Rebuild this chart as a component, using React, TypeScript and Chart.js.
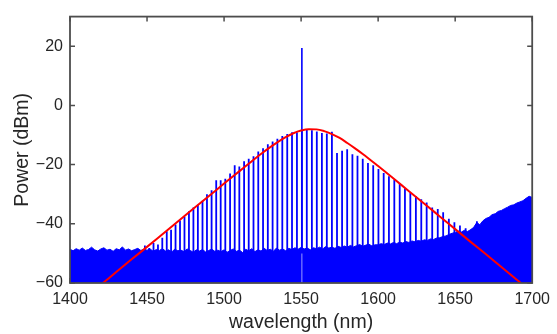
import React, { useEffect, useRef } from "react";
import { Chart, registerables } from "chart.js";

Chart.register(...registerables);

const X_MIN = 1400;
const X_MAX = 1700;
const Y_MIN = -60;
const Y_MAX = 30;
const X_TICKS = [1400, 1450, 1500, 1550, 1600, 1650, 1700];
const Y_TICKS = [-60, -40, -20, 0, 20];

// Noise floor of the measured spectrum, sampled every 2 nm starting at 1400 nm
const FLOOR_START_NM = 1400;
const FLOOR_STEP_NM = 2;
const FLOOR_DBM = [
  -48.6, -49.1, -48.4, -48.9, -48.2, -49.0, -48.7, -47.9, -48.8, -49.2, -48.5, -48.1, -48.9,
  -48.6, -49.3, -48.4, -48.8, -47.8, -48.9, -48.5, -49.1, -48.7, -48.3, -49.0, -48.6,
  -48.9, -48.5, -49.3, -48.7, -49.0, -48.4, -49.2, -48.8, -49.5, -48.6, -49.1, -48.9, -49.4,
  -48.5, -49.0, -49.6, -48.8, -49.2, -48.7, -49.5, -49.0, -48.6, -49.3, -48.9, -49.4,
  -48.8, -49.6, -49.0, -48.5, -49.3, -48.9, -49.7, -48.6, -49.1, -48.4, -49.4, -48.8, -49.2,
  -48.3, -49.0, -48.6, -49.3, -48.2, -48.9, -48.5, -49.1, -48.3, -48.7, -48.1, -48.6,
  -48.0, -48.5, -48.2, -48.8, -48.1, -48.4, -47.9, -48.5, -47.7, -48.2, -47.9, -48.3, -47.6,
  -48.0, -47.5, -47.9, -47.3, -47.8, -47.4, -47.0, -47.6, -47.2, -46.9, -47.5, -47.1,
  -47.1, -46.7, -47.0, -46.5, -46.8, -46.3, -46.7, -46.2, -46.5, -46.0, -46.3, -45.8, -46.1,
  -45.6, -45.9, -45.4, -45.6, -45.1, -45.3, -44.8, -44.7, -44.3, -44.1, -43.6, -43.2,
  -42.9, -42.5, -42.8, -42.2, -42.6, -42.0, -41.2, -39.6, -40.3, -39.0, -38.2, -37.8, -36.9,
  -36.6, -35.8, -35.5, -34.9, -34.4, -33.8, -33.6, -33.0, -32.6, -32.2, -31.4, -30.7, -31.1,
];

// Comb lines (400 GHz grid) : wavelength (nm) and peak power (dBm)
const COMB_NM = [
  1448.6, 1451.4, 1454.2, 1457.1, 1459.9, 1462.8, 1465.6, 1468.5, 1471.4, 1474.3, 1477.2,
  1480.1, 1483.0, 1486.0, 1488.9, 1491.9, 1494.9, 1497.8, 1500.8, 1503.9, 1506.9, 1509.9,
  1513.0, 1516.0, 1519.1, 1522.2, 1525.3, 1528.4, 1531.5, 1534.6, 1537.8, 1541.0, 1544.1,
  1547.3, 1550.5, 1553.7, 1557.0, 1560.2, 1563.5, 1566.7, 1570.0, 1573.3, 1576.6, 1579.9,
  1583.3, 1586.6, 1590.0, 1593.4, 1596.8, 1600.2, 1603.6, 1607.0, 1610.5, 1614.0, 1617.4,
  1620.9, 1624.5, 1628.0, 1631.5, 1635.1, 1638.7, 1642.2, 1645.9, 1649.5, 1653.1, 1656.8,
  1660.4, 1664.1,
];
const COMB_DBM = [
  -47.3, -48.2, -46.5, -47.0, -44.7, -42.5, -42.0, -40.2, -38.9, -37.6, -35.8,
  -34.5, -33.6, -32.2, -30.0, -28.7, -25.3, -25.3, -24.8, -23.0, -20.2, -20.6,
  -18.9, -18.0, -17.2, -15.6, -14.5, -13.1, -12.2, -11.3, -10.3, -9.7, -9.1,
  -9.1, -8.6, -8.3, -8.4, -8.8, -9.3, -9.5, -8.9, -16.1, -15.3, -14.8,
  -16.5, -17.0, -18.0, -19.5, -20.2, -21.5, -22.8, -23.9, -25.0, -26.5, -28.0,
  -29.5, -30.6, -31.7, -32.8, -34.5, -35.0, -36.1, -38.3, -39.5, -40.6, -41.5,
  -41.8, -39.1,
];

// Pump line
const PUMP_NM = [1550.5];
const PUMP_DBM = [19.4];
const PUMP_NOTCH_DBM = [-50.0];

// Fitted envelope (red)
const FIT_NM = [
  1420, 1430, 1440, 1450, 1460, 1470, 1480, 1490, 1500, 1510, 1520, 1525, 1530, 1535, 1540,
  1545, 1550, 1555, 1560, 1565, 1570, 1575, 1580, 1585, 1590, 1600, 1610, 1620, 1630, 1640,
  1650, 1660, 1670, 1680, 1690, 1695,
];
const FIT_DBM = [
  -60.6, -56.3, -52.0, -47.8, -43.5, -39.2, -34.9, -30.7, -26.4, -22.2, -18.0, -16.0, -14.1,
  -12.3, -10.7, -9.4, -8.5, -8.04, -8.1, -8.7, -9.7, -11.0, -12.7, -14.5, -16.4, -20.5, -24.7,
  -29.0, -33.2, -37.5, -41.8, -46.1, -50.3, -54.6, -58.9, -61.0,
];

const BLUE = "#0000ff";
const RED = "#ff0000";
const AXIS = "#4d4d4d";
const TEXT = "#262626";
const FONT = "'Liberation Sans', Arial, Helvetica, sans-serif";

const fmt = (v: number) => (v < 0 ? "\u2212" + Math.abs(v) : String(v));

const framePlugin = {
  id: "frame",
  beforeDatasetsDraw(chart: any) {
    const { ctx, chartArea: a, scales } = chart;
    const len = 5;
    ctx.save();
    ctx.strokeStyle = AXIS;
    ctx.lineWidth = 1.5;
    ctx.beginPath();
    for (const v of X_TICKS) {
      const px = scales.x.getPixelForValue(v);
      ctx.moveTo(px, a.bottom);
      ctx.lineTo(px, a.bottom - len);
      ctx.moveTo(px, a.top);
      ctx.lineTo(px, a.top + len);
    }
    for (const v of Y_TICKS) {
      const py = scales.y.getPixelForValue(v);
      ctx.moveTo(a.left, py);
      ctx.lineTo(a.left + len, py);
      ctx.moveTo(a.right, py);
      ctx.lineTo(a.right - len, py);
    }
    ctx.stroke();
    ctx.restore();
  },
  afterDatasetsDraw(chart: any) {
    const { ctx, chartArea: a } = chart;
    ctx.save();
    ctx.strokeStyle = AXIS;
    ctx.lineWidth = 1.8;
    ctx.strokeRect(a.left, a.top, a.right - a.left, a.bottom - a.top);
    ctx.restore();
  },
};

export default function App() {
  const ref = useRef<HTMLCanvasElement | null>(null);

  useEffect(() => {
    if (!ref.current) return;
    const floorData = FLOOR_DBM.map((y, i) => ({ x: FLOOR_START_NM + i * FLOOR_STEP_NM, y }));
    const combData = COMB_NM.map((x, i) => ({ x, y: [Y_MIN, COMB_DBM[i]] }));
    const pumpData = PUMP_NM.map((x, i) => ({ x, y: [Y_MIN, PUMP_DBM[i]] }));
    const notchData = PUMP_NM.map((x, i) => ({ x, y: [Y_MIN, PUMP_NOTCH_DBM[i]] }));
    const fitData = FIT_NM.map((x, i) => ({ x, y: FIT_DBM[i] }));

    const chart = new Chart(ref.current, {
      type: "line",
      data: {
        datasets: [
          {
            type: "line",
            data: fitData,
            borderColor: RED,
            borderWidth: 2,
            pointRadius: 0,
            cubicInterpolationMode: "monotone",
            fill: false,
            clip: 0,
            order: 0,
          } as any,
          {
            type: "bar",
            data: notchData,
            backgroundColor: "#9a9aff",
            maxBarThickness: 1,
            grouped: false,
            order: 1,
          } as any,
          {
            type: "bar",
            data: pumpData,
            backgroundColor: BLUE,
            maxBarThickness: 1.6,
            grouped: false,
            order: 2,
          } as any,
          {
            type: "bar",
            data: combData,
            backgroundColor: BLUE,
            maxBarThickness: 1.8,
            grouped: false,
            order: 3,
          } as any,
          {
            type: "line",
            data: floorData,
            borderColor: BLUE,
            backgroundColor: BLUE,
            borderWidth: 1,
            pointRadius: 0,
            tension: 0,
            fill: "start",
            clip: 0,
            order: 4,
          } as any,
        ],
      },
      options: {
        animation: false,
        responsive: false,
        devicePixelRatio: 1,
        layout: { padding: { left: 0, right: 20, top: 14, bottom: 0 } },
        plugins: {
          legend: { display: false },
          tooltip: { enabled: false },
        },
        scales: {
          x: {
            type: "linear",
            min: X_MIN,
            max: X_MAX,
            offset: false,
            grid: { display: false, drawTicks: false },
            border: { display: false },
            afterBuildTicks: (s: any) => {
              s.ticks = X_TICKS.map((value) => ({ value }));
            },
            afterFit: (s: any) => {
              s.height = 51;
            },
            ticks: {
              autoSkip: false,
              maxRotation: 0,
              minRotation: 0,
              padding: 7,
              color: TEXT,
              font: { family: FONT, size: 16 },
              callback: (v: any) => fmt(Number(v)),
            },
            title: {
              display: true,
              text: "wavelength (nm)",
              color: TEXT,
              font: { family: FONT, size: 19.5, lineHeight: 1 },
              padding: { top: 0, bottom: 1.5 },
            },
          },
          y: {
            type: "linear",
            min: Y_MIN,
            max: Y_MAX,
            grid: { display: false, drawTicks: false },
            border: { display: false },
            afterBuildTicks: (s: any) => {
              s.ticks = Y_TICKS.map((value) => ({ value }));
            },
            afterFit: (s: any) => {
              s.width = 70;
            },
            ticks: {
              padding: 7,
              color: TEXT,
              font: { family: FONT, size: 16 },
              callback: (v: any) => fmt(Number(v)),
            },
            title: {
              display: true,
              text: "Power (dBm)",
              color: TEXT,
              font: { family: FONT, size: 19.5, lineHeight: 1 },
              padding: { top: 12.5, bottom: 0 },
            },
          },
        },
      },
      plugins: [framePlugin],
    } as any);

    return () => chart.destroy();
  }, []);

  return (
    <div
      style={{
        position: "fixed",
        left: 0,
        top: 0,
        width: 557,
        height: 334,
        background: "#ffffff",
      }}
    >
      <canvas ref={ref} width={557} height={334} style={{ display: "block" }} />
    </div>
  );
}
